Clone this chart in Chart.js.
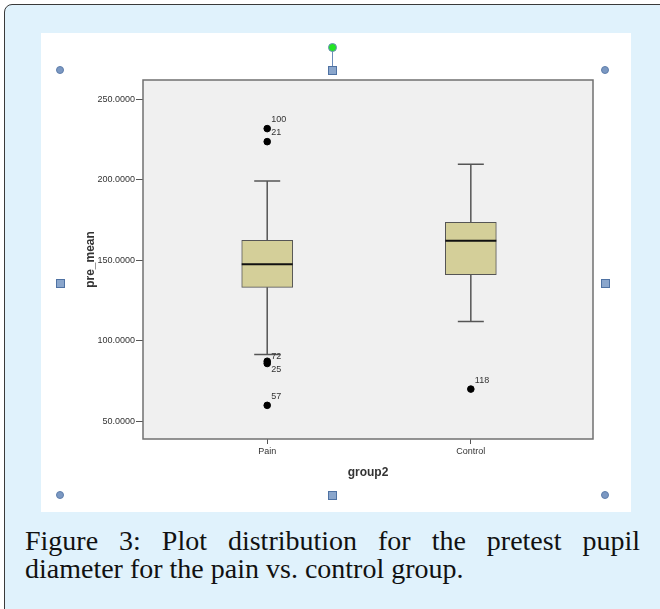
<!DOCTYPE html>
<html>
<head>
<meta charset="utf-8">
<script src="https://cdn.jsdelivr.net/npm/chart.js@4.4.0/dist/chart.umd.min.js"></script>
<style>
    html, body { margin: 0; padding: 0; }
    body { width: 660px; height: 609px; overflow: hidden; background: #ffffff; position: relative; }
    #card {
        position: absolute; left: 4px; top: 4px; width: 680px; height: 640px;
        background: #e0f2fc; border: 1px solid #3a3a3a; border-top-left-radius: 8px;
        box-sizing: border-box;
    }
    #panel { position: absolute; left: 41px; top: 33px; width: 590px; height: 479px; background: #ffffff; }
    #chartBox { position: absolute; left: 41px; top: 33px; width: 590px; height: 479px; }
    .dot { position: absolute; width: 8px; height: 8px; border-radius: 50%; background: #7b98c2; border: 1px solid #5f7eab; box-sizing: border-box; }
    .sq { position: absolute; width: 9px; height: 9px; background: #8aa6cc; border: 1px solid #4f72a3; box-sizing: border-box; }
    .green { position: absolute; width: 9px; height: 9px; border-radius: 50%; background: #22e622; border: 1px solid #6b8cba; box-sizing: border-box; }
    .stem { position: absolute; width: 1px; background: #6b8cba; }
    #caption {
        position: absolute; left: 25px; top: 527px; width: 615px;
        font-family: "Liberation Serif", "DejaVu Serif", serif; font-size: 28px; line-height: 28px; color: #111;
    }
    #caption .l1 { text-align: justify; text-align-last: justify; }
</style>
</head>
<body>
<div id="card"></div>
<div id="panel"></div>
<div id="chartBox"><canvas id="myChart" width="590" height="479"></canvas></div>

<div class="dot" style="left:56px; top:66px;"></div>
<div class="dot" style="left:601px; top:66px;"></div>
<div class="dot" style="left:56px; top:491px;"></div>
<div class="dot" style="left:601px; top:491px;"></div>
<div class="sq" style="left:328px; top:66px;"></div>
<div class="sq" style="left:56px; top:279px;"></div>
<div class="sq" style="left:601px; top:279px;"></div>
<div class="sq" style="left:328px; top:491px;"></div>
<div class="stem" style="left:332px; top:51px; height:15px;"></div>
<div class="green" style="left:328px; top:43px;"></div>

<div id="caption">
    <div class="l1">Figure 3: Plot distribution for the pretest pupil</div>
    <div>diameter for the pain vs. control group.</div>
</div>

<script>
// Данные
const groups = ['Pain', 'Control'];
const groupPos = [1, 2];
const q1 = [133.2, 141.1];
const medians = [147.5, 162.2];
const q3 = [162.4, 173.6];
const whiskerLow = [91.5, 112.0];
const whiskerHigh = [199.2, 209.7];

const outlierGroup = [1, 1, 1, 1, 1, 2];
const outlierValues = [231.8, 223.7, 87.3, 85.9, 59.9, 70.0];
const outlierIds = ['100', '21', '72', '25', '57', '118'];

const yTicks = [50, 100, 150, 200, 250];

// Рисуем фон, усы, медианы, подписи выбросов и рамку
const boxPlugin = {
    id: 'boxPlugin',
    beforeDraw(chart) {
        const a = chart.chartArea;
        const ctx = chart.ctx;
        ctx.save();
        ctx.fillStyle = '#f0f0f0';
        ctx.fillRect(a.left, a.top, a.right - a.left, a.bottom - a.top);
        ctx.restore();
    },
    beforeDatasetsDraw(chart) {
        const ctx = chart.ctx;
        const xs = chart.scales.x;
        const ys = chart.scales.y;
        ctx.save();
        ctx.strokeStyle = '#555555';
        ctx.lineWidth = 1.5;
        for (let i = 0; i < groups.length; i++) {
            const x = xs.getPixelForValue(groupPos[i]);
            const yLo = ys.getPixelForValue(whiskerLow[i]);
            const yHi = ys.getPixelForValue(whiskerHigh[i]);
            ctx.beginPath();
            ctx.moveTo(x, yHi); ctx.lineTo(x, ys.getPixelForValue(q3[i]));
            ctx.moveTo(x, yLo); ctx.lineTo(x, ys.getPixelForValue(q1[i]));
            ctx.moveTo(x - 13, yHi); ctx.lineTo(x + 13, yHi);
            ctx.moveTo(x - 13, yLo); ctx.lineTo(x + 13, yLo);
            ctx.stroke();
        }
        ctx.restore();
    },
    afterDatasetsDraw(chart) {
        const ctx = chart.ctx;
        const xs = chart.scales.x;
        const ys = chart.scales.y;
        const a = chart.chartArea;
        ctx.save();
        // медианы
        ctx.strokeStyle = '#111111';
        ctx.lineWidth = 2;
        for (let i = 0; i < groups.length; i++) {
            const x = xs.getPixelForValue(groupPos[i]);
            const y = ys.getPixelForValue(medians[i]);
            ctx.beginPath();
            ctx.moveTo(x - 25.5, y); ctx.lineTo(x + 25.5, y);
            ctx.stroke();
        }
        // подписи выбросов
        ctx.fillStyle = '#333333';
        ctx.font = '9px "Liberation Sans", Arial, sans-serif';
        ctx.textBaseline = 'middle';
        ctx.textAlign = 'left';
        for (let i = 0; i < outlierValues.length; i++) {
            const x = xs.getPixelForValue(outlierGroup[i]);
            const y = ys.getPixelForValue(outlierValues[i]);
            let dy = -9;
            if (outlierIds[i] === '72') dy = -5;
            if (outlierIds[i] === '25') dy = 6;
            ctx.fillText(outlierIds[i], x + 4, y + dy);
        }
        // рамка
        ctx.strokeStyle = '#707070';
        ctx.lineWidth = 1.5;
        ctx.strokeRect(a.left, a.top, a.right - a.left, a.bottom - a.top);
        ctx.restore();
    }
};

const ctx = document.getElementById('myChart').getContext('2d');
window.chart = new Chart(ctx, {
    type: 'bar',
    data: {
        datasets: [{
            type: 'bar',
            data: groupPos.map((p, i) => ({ x: p, y: [q1[i], q3[i]] })),
            backgroundColor: '#d4cf99',
            borderColor: '#555555',
            borderWidth: 1,
            borderSkipped: false,
            barThickness: 51
        }, {
            type: 'scatter',
            data: outlierValues.map((v, i) => ({ x: outlierGroup[i], y: v })),
            backgroundColor: '#000000',
            borderColor: '#000000',
            pointRadius: 3.3,
            pointHoverRadius: 3.3
        }]
    },
    plugins: [boxPlugin],
    options: {
        responsive: false,
        animation: false,
        events: [],
        layout: { padding: { top: 47, right: 38, left: 0, bottom: 0 } },
        plugins: { legend: { display: false }, tooltip: { enabled: false } },
        scales: {
            x: {
                type: 'linear',
                offset: false,
                min: 0.39,
                max: 2.6,
                afterBuildTicks: (scale) => { scale.ticks = groupPos.map(v => ({ value: v })); },
                afterFit: (scale) => { scale.height = 73; },
                ticks: {
                    callback: (v) => groups[groupPos.indexOf(v)],
                    color: '#333333',
                    font: { family: '"Liberation Sans", Arial, sans-serif', size: 9 },
                    padding: 2,
                    maxRotation: 0
                },
                grid: { offset: false, drawOnChartArea: false, tickLength: 5, color: '#555555' },
                border: { display: false },
                title: {
                    display: true,
                    text: 'group2',
                    color: '#333333',
                    font: { family: '"Liberation Sans", Arial, sans-serif', size: 12, weight: 'bold' },
                    padding: { top: 0, bottom: 32 }
                }
            },
            y: {
                type: 'linear',
                min: 39,
                max: 262,
                afterBuildTicks: (scale) => { scale.ticks = yTicks.map(v => ({ value: v })); },
                afterFit: (scale) => { scale.width = 102; },
                ticks: {
                    callback: (v) => v.toFixed(4),
                    color: '#333333',
                    font: { family: '"Liberation Sans", Arial, sans-serif', size: 9 },
                    padding: 1
                },
                grid: { drawOnChartArea: false, tickLength: 7, color: '#555555' },
                border: { display: false },
                title: {
                    display: true,
                    text: 'pre_mean',
                    color: '#333333',
                    font: { family: '"Liberation Sans", Arial, sans-serif', size: 12, weight: 'bold' },
                    padding: { top: 42, bottom: 0 }
                }
            }
        }
    }
});
</script>
</body>
</html>
